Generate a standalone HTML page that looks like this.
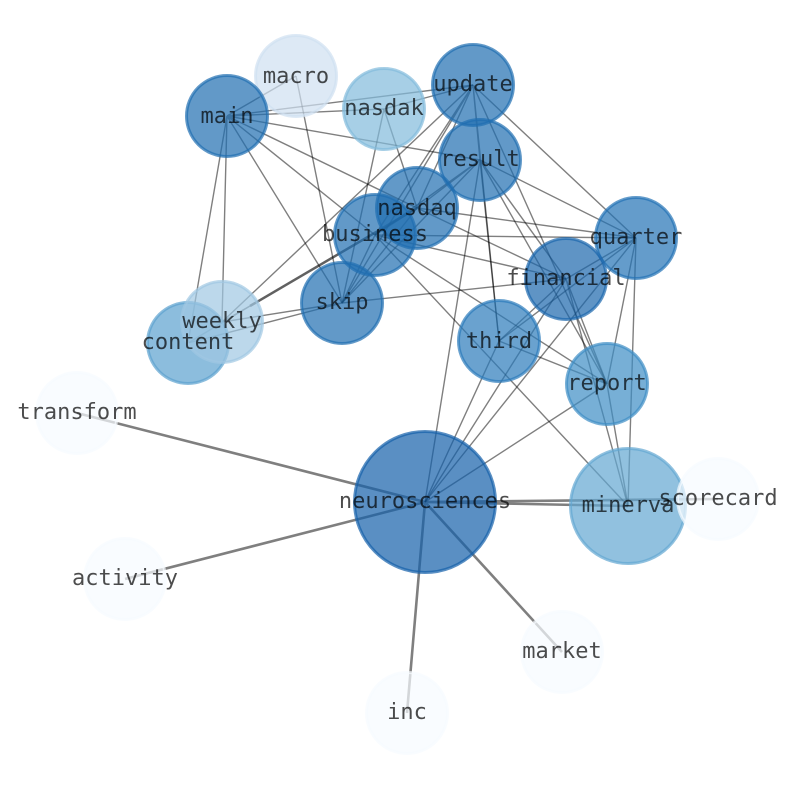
<!DOCTYPE html>
<html><head><meta charset="utf-8"><style>html,body{margin:0;padding:0;background:#fff}svg{display:block}text{font-family:"DejaVu Sans Mono","Liberation Mono",monospace;font-size:22px;text-anchor:middle;fill:#000;fill-opacity:.7}</style></head><body>
<svg width="794" height="790" viewBox="0 0 794 790" xmlns="http://www.w3.org/2000/svg">
<g stroke="#000" stroke-opacity=".5" stroke-width="1.4" fill="none">
<path d="M227 116L296 76M227 116L384 109M227 116L473 85M227 116L480 160M227 116L417 208M227 116L375 235M227 116L342 303M227 116L222 322M227 116L188 343"/>
<path d="M296 76L342 303M384 109L473 85M384 109L342 303M384 109L417 208"/>
<path d="M473 85L222 322M473 85L417 208M473 85L375 235M473 85L342 303M473 85L480 160M473 85L499 341M473 85L607 384M473 85L636 238"/>
<path d="M480 160L417 208M480 160L375 235M480 160L342 303M480 160L499 341M480 160L566 279M480 160L607 384M480 160L636 238M480 160L425 502"/>
<path d="M417 208L342 303M417 208L375 235M417 208L636 238M417 208L566 279"/>
<path d="M375 235L342 303M375 235L636 238M375 235L566 279M375 235L607 384M375 235L628 506"/>
<path d="M342 303L566 279M342 303L222 322M342 303L188 343"/>
<path d="M636 238L566 279M636 238L499 341M636 238L607 384M636 238L628 506M636 238L425 502"/>
<path d="M566 279L499 341M566 279L607 384M566 279L628 506M566 279L425 502"/>
<path d="M499 341L607 384M499 341L425 502M607 384L628 506M607 384L425 502"/>
<path d="M250 306L222 322M250 306L188 343"/>
<path d="M417 208L250 306" stroke-opacity=".62" stroke-width="2.5"/>
</g>
<g stroke="#000" stroke-opacity=".5" stroke-width="2.6" fill="none">
<path d="M425 502L77 413M425 502L125 579M425 502L407 713M425 502L562 652M425 502L628 506M425 502L718 499"/>
</g>
<g stroke-width="3">
<circle cx="77" cy="413" r="40.5" fill="#f7fbff" stroke="#f7fbff" fill-opacity=".7" stroke-opacity=".7"/>
<circle cx="125" cy="579" r="40.5" fill="#f7fbff" stroke="#f7fbff" fill-opacity=".7" stroke-opacity=".7"/>
<circle cx="407" cy="713" r="40.5" fill="#f7fbff" stroke="#f7fbff" fill-opacity=".7" stroke-opacity=".7"/>
<circle cx="562" cy="652" r="40.5" fill="#f7fbff" stroke="#f7fbff" fill-opacity=".7" stroke-opacity=".7"/>
<circle cx="296" cy="76" r="40.5" fill="#cfe0f1" stroke="#cfe0f1" fill-opacity=".7" stroke-opacity=".7"/>
<circle cx="384" cy="109" r="40.5" fill="#82bbdb" stroke="#82bbdb" fill-opacity=".7" stroke-opacity=".7"/>
<circle cx="227" cy="116" r="40.5" fill="#206db0" stroke="#206db0" fill-opacity=".7" stroke-opacity=".7"/>
<circle cx="473" cy="85" r="40.5" fill="#206db0" stroke="#206db0" fill-opacity=".7" stroke-opacity=".7"/>
<circle cx="480" cy="160" r="40.5" fill="#206db0" stroke="#206db0" fill-opacity=".7" stroke-opacity=".7"/>
<circle cx="417" cy="208" r="40.5" fill="#206db0" stroke="#206db0" fill-opacity=".7" stroke-opacity=".7"/>
<circle cx="375" cy="235" r="40.5" fill="#206db0" stroke="#206db0" fill-opacity=".7" stroke-opacity=".7"/>
<circle cx="342" cy="303" r="40.5" fill="#206db0" stroke="#206db0" fill-opacity=".7" stroke-opacity=".7"/>
<circle cx="636" cy="238" r="40.5" fill="#2272b5" stroke="#2272b5" fill-opacity=".7" stroke-opacity=".7"/>
<circle cx="566" cy="279" r="40.5" fill="#1b67ad" stroke="#1b67ad" fill-opacity=".7" stroke-opacity=".7"/>
<circle cx="499" cy="341" r="40.5" fill="#2b7bba" stroke="#2b7bba" fill-opacity=".7" stroke-opacity=".7"/>
<circle cx="607" cy="384" r="40.5" fill="#3d8dc4" stroke="#3d8dc4" fill-opacity=".7" stroke-opacity=".7"/>
<circle cx="188" cy="343" r="40.5" fill="#5ba1cf" stroke="#5ba1cf" fill-opacity=".7" stroke-opacity=".7"/>
<circle cx="222" cy="322" r="40.5" fill="#a0c8e2" stroke="#a0c8e2" fill-opacity=".7" stroke-opacity=".7"/>
<circle cx="425" cy="502" r="70.5" fill="#1460a9" stroke="#1460a9" fill-opacity=".7" stroke-opacity=".7"/>
<circle cx="628" cy="506" r="57.5" fill="#63a6d1" stroke="#63a6d1" fill-opacity=".7" stroke-opacity=".7"/>
<circle cx="718" cy="499" r="40.5" fill="#f7fbff" stroke="#f7fbff" fill-opacity=".7" stroke-opacity=".7"/>
</g>
<g>
<text x="77" y="419">transform</text>
<text x="125" y="585">activity</text>
<text x="407" y="719">inc</text>
<text x="562" y="658">market</text>
<text x="296" y="83">macro</text>
<text x="384" y="115">nasdak</text>
<text x="227" y="123">main</text>
<text x="473" y="91">update</text>
<text x="480" y="166">result</text>
<text x="417" y="215">nasdaq</text>
<text x="375" y="241">business</text>
<text x="342" y="309">skip</text>
<text x="636" y="244">quarter</text>
<text x="566" y="285">financial</text>
<text x="499" y="348">third</text>
<text x="607" y="390">report</text>
<text x="188" y="349">content</text>
<text x="222" y="328">weekly</text>
<text x="425" y="508">neurosciences</text>
<text x="628" y="512">minerva</text>
<text x="718" y="505">scorecard</text>
</g>
</svg>
</body></html>
